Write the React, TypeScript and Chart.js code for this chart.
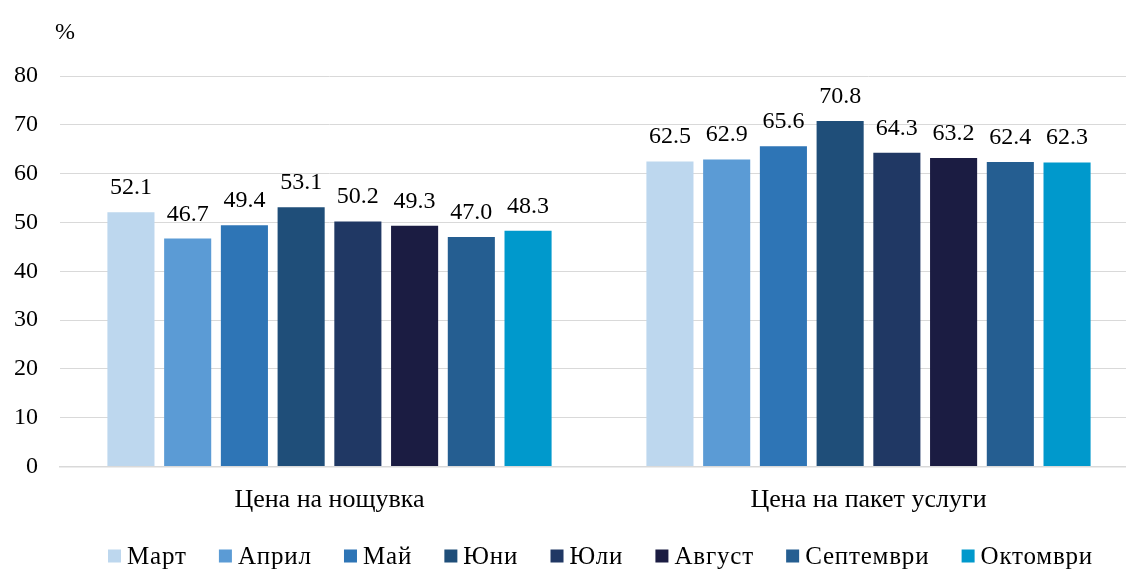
import React, { useEffect, useRef } from "react";
import { Chart, registerables } from "chart.js";

Chart.register(...registerables);

const categories = ["Цена на нощувка", "Цена на пакет услуги"];
const months = ["Март", "Април", "Май", "Юни", "Юли", "Август", "Септември", "Октомври"];
const values: number[][] = [
  [52.1, 62.5],
  [46.7, 62.9],
  [49.4, 65.6],
  [53.1, 70.8],
  [50.2, 64.3],
  [49.3, 63.2],
  [47.0, 62.4],
  [48.3, 62.3],
];
const colors = ["#BDD7EE", "#5B9BD5", "#2E75B6", "#1F4E79", "#203864", "#1B1C42", "#255E91", "#0099CC"];
const yTicks = [0, 10, 20, 30, 40, 50, 60, 70, 80];
const unitLabel = "%";

const FONT = "'Liberation Serif', 'Times New Roman', serif";
const FS = 24;

const overlayPlugin = {
  id: "overlay",
  afterDraw(chart: any) {
    const ctx = chart.ctx as CanvasRenderingContext2D;
    ctx.save();
    ctx.font = `${FS}px ${FONT}`;
    ctx.fillStyle = "#000";
    ctx.textAlign = "center";
    ctx.textBaseline = "alphabetic";
    chart.data.datasets.forEach((ds: any, i: number) => {
      const meta = chart.getDatasetMeta(i);
      meta.data.forEach((bar: any, j: number) => {
        ctx.fillText(Number(ds.data[j]).toFixed(1), bar.x, bar.y - 18);
      });
    });
    ctx.textAlign = "left";
    ctx.fillText(unitLabel, 55, 39);
    // legend
    ctx.font = `25px ${FONT}`;
    (ctx as any).letterSpacing = "0.8px";
    const startX = 108;
    const endX = 1093;
    const box = 13;
    const gapAfterBox = 6;
    const widths = chart.data.datasets.map((ds: any) => ctx.measureText(ds.label).width);
    const itemsW = widths.reduce((a: number, w: number) => a + box + gapAfterBox + w, 0);
    const n = widths.length;
    const gap = (endX - startX - itemsW) / (n - 1);
    let x = startX;
    const cy = 556;
    ctx.textBaseline = "middle";
    chart.data.datasets.forEach((ds: any, i: number) => {
      ctx.fillStyle = ds.backgroundColor;
      ctx.fillRect(x, cy - box / 2, box, box);
      ctx.fillStyle = "#000";
      ctx.fillText(ds.label, x + box + gapAfterBox, cy + 1);
      x += box + gapAfterBox + widths[i] + gap;
    });
    (ctx as any).letterSpacing = "0px";
    ctx.restore();
  },
};

export default function App() {
  const ref = useRef<HTMLCanvasElement | null>(null);
  useEffect(() => {
    if (!ref.current) return;
    const chart = new Chart(ref.current, {
      type: "bar",
      data: {
        labels: categories,
        datasets: months.map((m, i) => ({
          label: m,
          data: values[i],
          backgroundColor: colors[i],
          borderWidth: 0,
          categoryPercentage: 0.842,
          barPercentage: 0.83,
        })),
      },
      options: {
        animation: false,
        responsive: false,
        maintainAspectRatio: false,
        devicePixelRatio: 1,
        layout: { padding: { top: 76, left: 0, right: 2, bottom: 40 } },
        plugins: {
          legend: { display: false },
          tooltip: { enabled: false },
          title: { display: false },
        },
        scales: {
          x: {
            grid: { display: false, drawTicks: false },
            border: { display: true, color: "#d9d9d9", width: 1.5 },
            ticks: {
              color: "#000",
              font: { family: FONT, size: 26 },
              padding: 18,
              maxRotation: 0,
            },
            afterFit: (s: any) => {
              s.height = 63.5;
            },
          },
          y: {
            min: 0,
            max: 80,
            afterBuildTicks: (s: any) => {
              s.ticks = yTicks.map((v) => ({ value: v }));
            },
            grid: { color: "#d9d9d9", lineWidth: 1, drawTicks: false },
            border: { display: false },
            ticks: {
              color: "#000",
              font: { family: FONT, size: FS },
              padding: 22,
            },
            afterFit: (s: any) => {
              s.width = 60;
            },
          },
        },
      },
      plugins: [overlayPlugin],
    });
    return () => chart.destroy();
  }, []);
  return (
    <div style={{ position: "fixed", left: 0, top: 0, width: 1126, height: 570, overflow: "hidden", background: "#fff" }}>
      <canvas ref={ref} width={1140} height={570} style={{ display: "block", width: 1140, height: 570 }} />
    </div>
  );
}
